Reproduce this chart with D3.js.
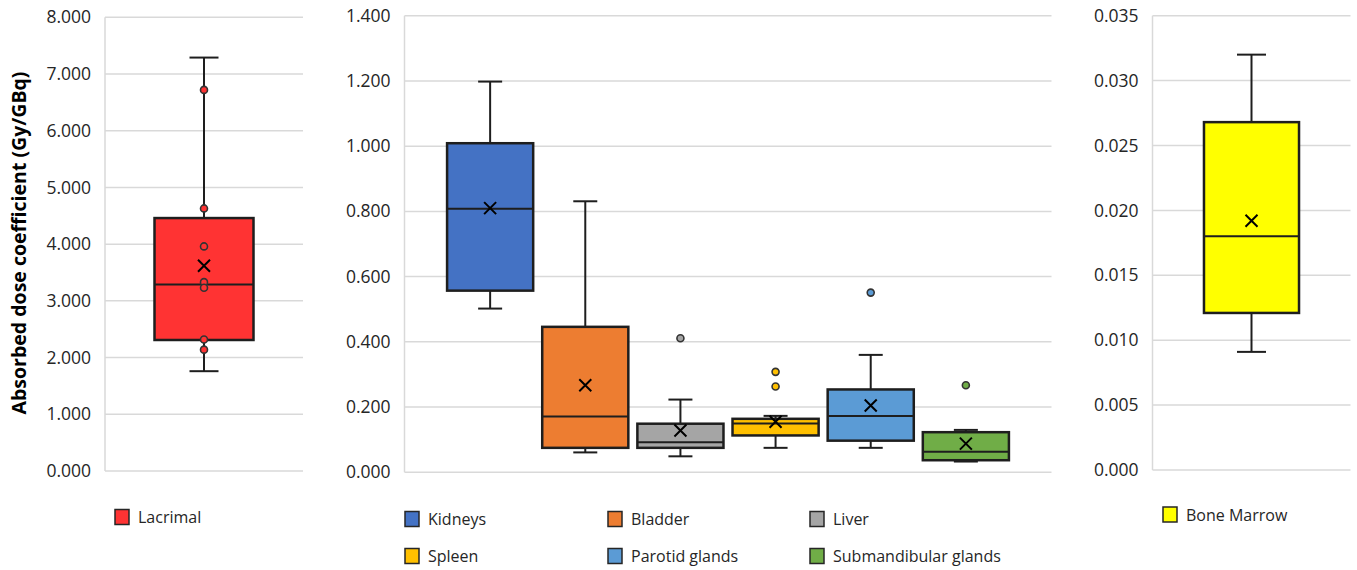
<!DOCTYPE html>
<html>
<head>
<meta charset="utf-8">
<script src="https://cdn.jsdelivr.net/npm/d3@7"></script>
<style>
  html, body { margin: 0; padding: 0; background: #fff; }
  svg { display: block; font-family: "Open Sans", "Noto Sans", sans-serif; }
</style>
</head>
<body>
<svg id="chart" width="1357" height="570"></svg>
<script>
// ---------- DATA ----------
const organs = ["Lacrimal", "Kidneys", "Bladder", "Liver", "Spleen", "Parotid glands", "Submandibular glands", "Bone Marrow"];
const panelOf = [0, 1, 1, 1, 1, 1, 1, 2];
const whiskerLow  = [1.76, 0.502, 0.061, 0.049, 0.075, 0.075, 0.033, 0.0091];
const q1          = [2.31, 0.557, 0.075, 0.075, 0.113, 0.097, 0.037, 0.0121];
const median      = [3.29, 0.808, 0.171, 0.092, 0.150, 0.173, 0.063, 0.0180];
const q3          = [4.46, 1.009, 0.446, 0.149, 0.164, 0.254, 0.123, 0.0268];
const whiskerHigh = [7.29, 1.198, 0.831, 0.223, 0.173, 0.360, 0.130, 0.0320];
const means       = [3.62, 0.810, 0.267, 0.128, 0.155, 0.205, 0.088, 0.0192];
const points = [
  [6.72, 4.63, 3.96, 3.33, 3.23, 2.32, 2.14],
  [], [], [0.411], [0.308, 0.263], [0.551], [0.267], []
];
const colors = ["#FF3333", "#4472C4", "#ED7D31", "#A5A5A5", "#FFC000", "#5B9BD5", "#70AD47", "#FFFF00"];
const tickValues = [
  [0, 1, 2, 3, 4, 5, 6, 7, 8],
  [0, 0.2, 0.4, 0.6, 0.8, 1.0, 1.2, 1.4],
  [0, 0.005, 0.010, 0.015, 0.020, 0.025, 0.030, 0.035]
];
const yLabel = "Absorbed dose coefficient (Gy/GBq)";

// ---------- LAYOUT ----------
const panels = [
  { x0: 105, x1: 303, yBottom: 471, yTop: 17.3, boxFrac: 0.5, capW: 29, padding: 0.5 },
  { x0: 404.5, x1: 1051.5, yBottom: 472.3, yTop: 15.7, boxFrac: 0.905, capW: 24, padding: 0.9 },
  { x0: 1152.5, x1: 1350.5, yBottom: 470, yTop: 15.7, boxFrac: 0.48, capW: 29, padding: 0.5 }
];
const legendPos = [
  { x: 115, y: 509.5 },
  { x: 405, y: 511.5 }, { x: 608, y: 511.5 }, { x: 810, y: 511.5 },
  { x: 405, y: 548.5 }, { x: 608, y: 548.5 }, { x: 810, y: 548.5 },
  { x: 1163, y: 507 }
];

const svg = d3.select("#chart");
const gridColor = "#d9d9d9";
const lineColor = "#1e1e1e";

panels.forEach((p, pi) => {
  const idx = organs.map((o, i) => i).filter(i => panelOf[i] === pi);
  const dom = [tickValues[pi][0], tickValues[pi][tickValues[pi].length - 1]];
  const y = d3.scaleLinear().domain(dom).range([p.yBottom, p.yTop]);
  const x = d3.scalePoint().domain(idx.map(i => organs[i])).range([p.x0, p.x1]).padding(p.padding);
  const step = idx.length > 1 ? x.step() : (p.x1 - p.x0);
  const bw = step * p.boxFrac;

  const g = svg.append("g");
  g.selectAll("line.grid").data(tickValues[pi]).join("line")
    .attr("x1", p.x0).attr("x2", p.x1)
    .attr("y1", d => y(d)).attr("y2", d => y(d))
    .attr("stroke", gridColor).attr("stroke-width", 1.5);
  g.append("line").attr("x1", p.x0).attr("x2", p.x0)
    .attr("y1", y(dom[0])).attr("y2", y(dom[1]))
    .attr("stroke", gridColor).attr("stroke-width", 1.5);
  const axis = d3.axisLeft(y).tickValues(tickValues[pi]).tickFormat(d3.format(".3f")).tickSize(0).tickPadding(14);
  const ag = svg.append("g").attr("transform", `translate(${p.x0},0)`).call(axis);
  ag.select(".domain").remove();
  ag.selectAll("text").attr("font-size", "17.5px").attr("fill", "#262626")
    .attr("font-family", "'Open Sans', sans-serif");

  idx.forEach(i => {
    const cx = x(organs[i]);
    const bg = svg.append("g");
    bg.append("line").attr("x1", cx).attr("x2", cx).attr("y1", y(q3[i])).attr("y2", y(whiskerHigh[i]))
      .attr("stroke", lineColor).attr("stroke-width", 2);
    bg.append("line").attr("x1", cx).attr("x2", cx).attr("y1", y(q1[i])).attr("y2", y(whiskerLow[i]))
      .attr("stroke", lineColor).attr("stroke-width", 2);
    [whiskerHigh[i], whiskerLow[i]].forEach(v => {
      bg.append("line").attr("x1", cx - p.capW / 2).attr("x2", cx + p.capW / 2)
        .attr("y1", y(v)).attr("y2", y(v))
        .attr("stroke", lineColor).attr("stroke-width", 2);
    });
    bg.append("rect").attr("x", cx - bw / 2).attr("width", bw)
      .attr("y", y(q3[i])).attr("height", y(q1[i]) - y(q3[i]))
      .attr("fill", colors[i]).attr("stroke", lineColor).attr("stroke-width", 2.5);
    bg.append("line").attr("x1", cx - bw / 2).attr("x2", cx + bw / 2)
      .attr("y1", y(median[i])).attr("y2", y(median[i]))
      .attr("stroke", lineColor).attr("stroke-width", 2);
    const m = y(means[i]), s = 6;
    bg.append("path").attr("d", `M${cx - s},${m - s}L${cx + s},${m + s}M${cx - s},${m + s}L${cx + s},${m - s}`)
      .attr("stroke", "#000").attr("stroke-width", 2).attr("fill", "none");
    bg.selectAll("circle").data(points[i]).join("circle")
      .attr("cx", cx).attr("cy", d => y(d)).attr("r", 3.5)
      .attr("fill", colors[i]).attr("stroke", "#333").attr("stroke-width", 1.6);
  });
});

svg.append("text")
  .attr("transform", `translate(18,243) rotate(-90)`)
  .attr("text-anchor", "middle").attr("dominant-baseline", "central")
  .attr("font-size", "19.5px").attr("font-weight", "bold").attr("fill", "#000")
  .text(yLabel);

const lg = svg.append("g");
organs.forEach((o, i) => {
  const pos = legendPos[i];
  lg.append("rect").attr("x", pos.x).attr("y", pos.y).attr("width", 14).attr("height", 15)
    .attr("fill", colors[i]).attr("stroke", "#262626").attr("stroke-width", 1.5);
  lg.append("text").attr("x", pos.x + 23).attr("y", pos.y + 7.5)
    .attr("dominant-baseline", "central").attr("font-size", "16px").attr("fill", "#262626")
    .text(o);
});
</script>
</body>
</html>
